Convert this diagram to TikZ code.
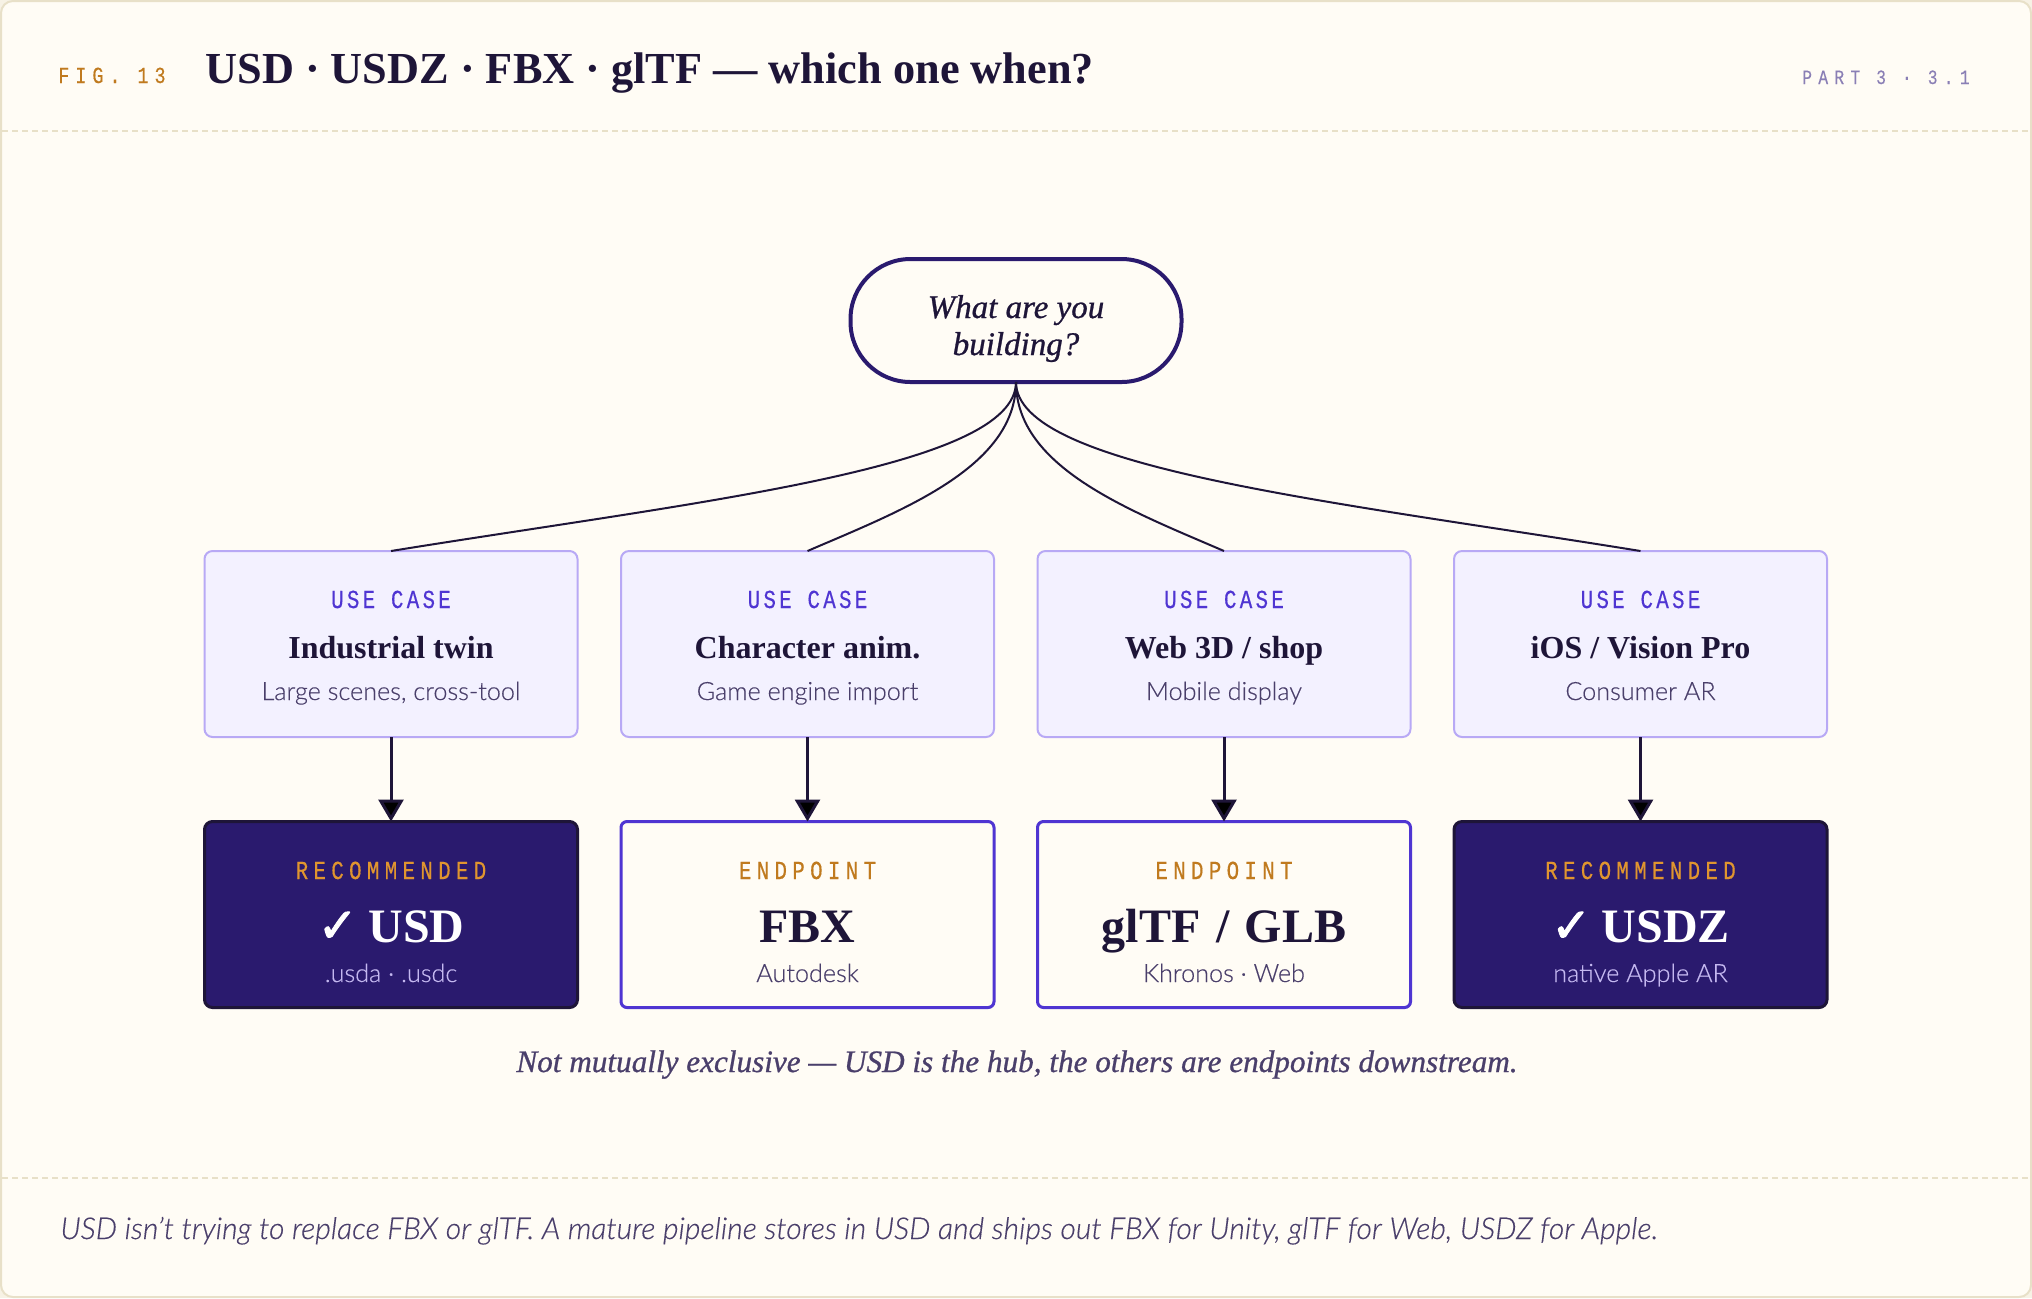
\documentclass[tikz,border=0pt]{standalone}
\usepackage{fontspec}
\usepackage{xcolor}
\usetikzlibrary{arrows.meta}
\setmainfont{Liberation Serif}
\setsansfont[FakeBold=0.3]{Lato Light}
\newfontfamily\tagmono[FakeStretch=0.8,FakeBold=0.4,LetterSpace=12.7]{Liberation Mono}
\newfontfamily\recmono[FakeStretch=0.8,FakeBold=0.4,LetterSpace=20.5]{Liberation Mono}
\newfontfamily\figmono[FakeStretch=0.8,FakeBold=0.4,LetterSpace=26]{Liberation Mono}
\newfontfamily\partmono[FakeStretch=0.8,FakeBold=0.2,LetterSpace=31]{Liberation Mono}
\newfontfamily\semiserif[FakeBold=0.8]{Liberation Serif}
\newfontfamily\bigserif[WordSpace=1.3]{Liberation Serif}
\newfontfamily\checkfont[FakeBold=2]{DejaVu Sans}

\definecolor{ink}{HTML}{1E1538}
\definecolor{deep}{HTML}{2A1A6E}
\definecolor{violet}{HTML}{4F35D2}
\definecolor{lilac}{HTML}{B8A9F5}
\definecolor{mist}{HTML}{F3F1FF}
\definecolor{paper}{HTML}{FFFCF5}
\definecolor{rulecol}{HTML}{E8E0C8}
\definecolor{amber}{HTML}{C07A1E}
\definecolor{gold}{HTML}{E0952F}
\definecolor{slate}{HTML}{4A3F6B}
\definecolor{haze}{HTML}{C4B8F0}
\definecolor{partcol}{HTML}{8A7FB5}

% the three labels of a box, hung from its top edge
\newcommand{\uclabels}[3]{
    \node[tagtext] (#1tag) at ([yshift=-28.5pt]#1.north) {USE CASE};
    \node[nametext] (#1name) at ([yshift=-53.5pt]#1.north) {#2};
    \node[subtext] (#1sub) at ([yshift=-74.5pt]#1.north) {#3};
}
\newcommand{\eplabels}[6]{
    \node[rectext,text=#2] (#1tag) at ([yshift=-28.75pt]#1.north) {#3};
    \node[bigtext,text=#4] (#1name) at ([yshift=-60.25pt]#1.north) {#5};
    \node[subtext,text=#6] (#1sub) at ([yshift=-80.25pt]#1.north)
}
\newcommand{\tick}{{\checkfont ✓}\hspace{0.22em}}

\begin{document}
\begin{tikzpicture}[x=0.5pt,y=-0.5pt,>={Triangle[length=11pt,width=12.5pt]},node distance=208.25pt,
    base/.style={inner sep=0pt,outer sep=0pt,minimum width=186.5pt,minimum height=93pt},
    usecase/.style={base,draw=lilac,fill=mist,line width=1pt,rounded corners=4pt},
    openbox/.style={base,draw=violet,fill=paper,line width=1.5pt,rounded corners=3pt},
    recbox/.style={base,draw=ink,fill=deep,line width=1.5pt,rounded corners=4pt},
    label/.style={anchor=base,inner sep=0pt},
    tagtext/.style={label,text=violet,font=\tagmono\fontsize{13}{15}\selectfont},
    rectext/.style={label,font=\recmono\fontsize{13}{15}\selectfont},
    nametext/.style={label,text=ink,font=\bfseries\fontsize{16}{18}\selectfont},
    bigtext/.style={label,font=\bigserif\bfseries\fontsize{24}{28}\selectfont},
    subtext/.style={label,text=slate,font=\sffamily\fontsize{12.6}{15}\selectfont},
    rulerline/.style={draw=rulecol,line width=1pt,dash pattern=on 3pt off 2pt},
    fan/.style={draw=ink,line width=1pt},
    flow/.style={->,draw=ink,line width=1.5pt}]

    \useasboundingbox (0,0) rectangle (2032,1298);
    \fill[rulecol!35!paper] (0,0) rectangle (2032,1298);
    \draw[rulecol,fill=paper,line width=1pt,rounded corners=6pt] (1,1) rectangle (2031,1297);
    \draw[rulerline] (2,131) -- (2030,131);
    \draw[rulerline] (2,1178) -- (2030,1178);

    \node[anchor=base west,inner sep=0pt,text=amber,font=\figmono\fontsize{11.5}{13}\selectfont] (fig) at (58,83) {FIG. 13};
    \node[anchor=base west,inner sep=0pt,text=ink,font=\bfseries\fontsize{22.15}{26}\selectfont] (title) at (205,83) {USD · USDZ · FBX · glTF — which one when?};
    \node[anchor=base east,inner sep=0pt,text=partcol,font=\partmono\fontsize{10.15}{12}\selectfont] (part) at (1970,84) {PART 3 · 3.1};

    \node[draw=deep,fill=paper,line width=2pt,rounded corners=30pt,minimum width=165.5pt,minimum height=61.5pt,inner sep=0pt,outer sep=0pt,align=center,text=ink,font=\semiserif\itshape\fontsize{16.5}{18.5}\selectfont] (ask) at (1016,320.5)
      {\rule{0pt}{19.5pt}What are you\\building?};

    \node[usecase] (uc1) at (391,644) {};
    \node[usecase] (uc2) [right of=uc1] {};
    \node[usecase] (uc3) [right of=uc2] {};
    \node[usecase] (uc4) [right of=uc3] {};

    \node[recbox] (ep1) at (391,914.5) {};
    \node[openbox] (ep2) [right of=ep1] {};
    \node[openbox] (ep3) [right of=ep2] {};
    \node[recbox] (ep4) [right of=ep3] {};

    \uclabels{uc1}{Industrial twin}{Large scenes, cross-tool}
    \uclabels{uc2}{Character anim.}{Game engine import}
    \uclabels{uc3}{Web 3D / shop}{Mobile display}
    \uclabels{uc4}{iOS / Vision Pro}{Consumer AR}

    \eplabels{ep1}{gold}{RECOMMENDED}{white}{\tick USD}{haze} {.usda · .usdc};
    \eplabels{ep2}{amber}{ENDPOINT}{ink}{FBX}{slate} {Autodesk};
    \eplabels{ep3}{amber}{ENDPOINT}{ink}{glTF / GLB}{slate} {Khronos · Web};
    \eplabels{ep4}{gold}{RECOMMENDED}{white}{\tick USDZ}{haze} {native Apple AR};

    \draw[fan] (ask.south) .. controls +(0,86) and +(309,-50) .. (uc1.north);
    \draw[fan] (ask.south) .. controls +(0,86) and +(92.5,-40) .. (uc2.north);
    \draw[fan] (ask.south) .. controls +(0,86) and +(-92.5,-40) .. (uc3.north);
    \draw[fan] (ask.south) .. controls +(0,86) and +(-309,-50) .. (uc4.north);

    \path[flow] (uc1) edge (ep1)
    (uc2) edge (ep2)
    (uc3) edge (ep3)
    (uc4) edge (ep4);

    \node[anchor=base,inner sep=0pt,text=slate,font=\semiserif\itshape\fontsize{15.6}{18}\selectfont] (note) at (1017,1072) {Not mutually exclusive — USD is the hub, the others are endpoints downstream.};
    \node[anchor=base west,inner sep=0pt,text=slate,font=\sffamily\itshape\fontsize{15.05}{18}\selectfont] (foot) at (60,1239) {USD isn't trying to replace FBX or glTF. A mature pipeline stores in USD and ships out FBX for Unity, glTF for Web, USDZ for Apple.};
  \end{tikzpicture}
\end{document}
